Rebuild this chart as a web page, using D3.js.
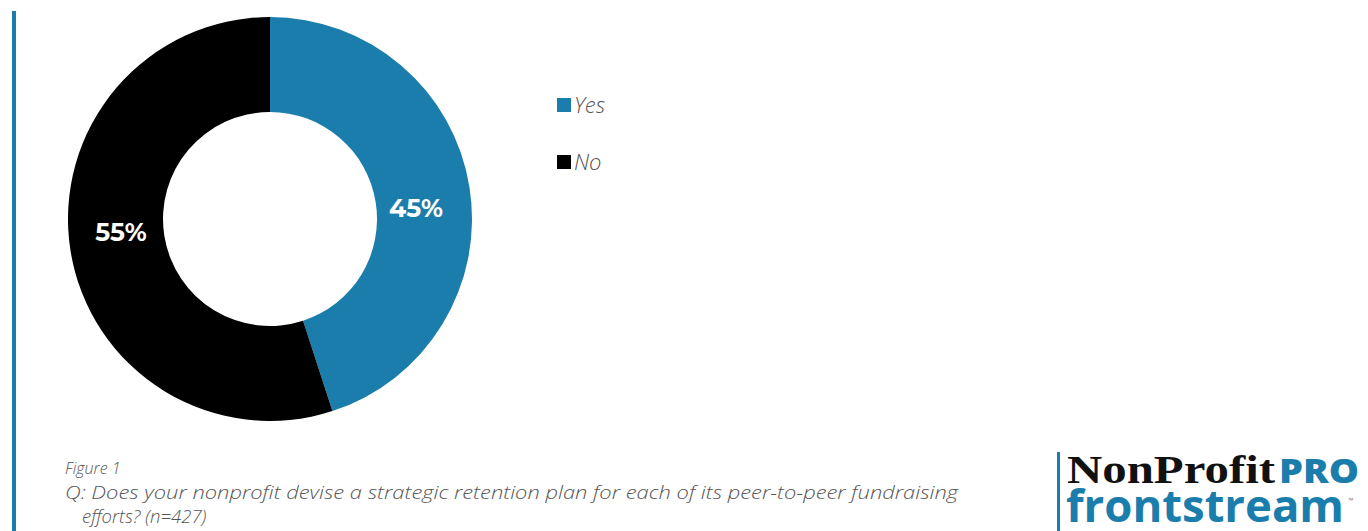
<!DOCTYPE html>
<html><head><meta charset="utf-8">
<script src="https://cdn.jsdelivr.net/npm/d3@7"></script>
<style>body{margin:0;background:#fff;overflow:hidden}</style>
</head><body>
<svg id="c" width="1368" height="531"></svg>
<script>
const categories = ["Yes", "No"];
const values = [45, 55];
const labels = ["45%", "55%"];
const colors = ["#1a7dab", "#000000"];

const svg = d3.select("#c");
const blue = "#1a7dab";

// left accent bar
svg.append("rect").attr("x", 12).attr("y", 11).attr("width", 4).attr("height", 520).attr("fill", blue);

const cx = 270, cy = 219, rO = 202, rI = 107;
const pie = d3.pie().sort(null).value(d => d)(values);
const arc = d3.arc().innerRadius(rI).outerRadius(rO);
const g = svg.append("g").attr("transform", `translate(${cx},${cy})`);
g.selectAll("path").data(pie).join("path").attr("d", arc).attr("fill", (d, i) => colors[i]);

const labelPos = [[146, -11], [-149, 13]];
g.selectAll("text.lab").data(pie).join("text").attr("class", "lab")
  .attr("x", (d, i) => labelPos[i][0]).attr("y", (d, i) => labelPos[i][1])
  .attr("text-anchor", "middle").attr("dominant-baseline", "central")
  .attr("fill", "#fff").attr("font-family", "Montserrat, 'Open Sans', sans-serif")
  .attr("font-weight", 700).attr("font-size", 25)
  .text((d, i) => labels[i]);

// legend
const leg = svg.append("g");
categories.forEach((c, i) => {
  const y = 98 + i * 57;
  leg.append("rect").attr("x", 557).attr("y", y).attr("width", 14).attr("height", 14).attr("fill", colors[i]);
  leg.append("text").attr("x", 574).attr("y", y + 15).attr("font-family", "'Open Sans', sans-serif")
    .attr("font-style", "italic").attr("font-weight", 300).attr("font-size", 22).attr("fill", "#555").text(c);
});

// caption
const cap = svg.append("g").attr("font-family", "'Open Sans', sans-serif").attr("font-style", "italic")
  .attr("font-weight", 300).attr("fill", "#555");
cap.append("text").attr("x", 65).attr("y", 474).attr("font-size", 16).text("Figure 1");
cap.append("text").attr("x", 65).attr("y", 499).attr("font-size", 18.5).attr("textLength", 893)
  .attr("lengthAdjust", "spacingAndGlyphs")
  .text("Q: Does your nonprofit devise a strategic retention plan for each of its peer-to-peer fundraising");
cap.append("text").attr("x", 82).attr("y", 523).attr("font-size", 18.5).text("efforts? (n=427)");

// logo
svg.append("rect").attr("x", 1057).attr("y", 452).attr("width", 3).attr("height", 79).attr("fill", blue);
svg.append("text").attr("x", 1067).attr("y", 483).attr("font-family", "'Liberation Serif', serif")
  .attr("font-weight", 700).attr("font-size", 40).attr("fill", "#111").attr("textLength", 208)
  .attr("lengthAdjust", "spacingAndGlyphs").text("NonProfit");
svg.append("text").attr("x", 1279).attr("y", 483).attr("font-family", "'Open Sans', sans-serif")
  .attr("font-weight", 800).attr("font-size", 34).attr("fill", blue).attr("textLength", 80)
  .attr("lengthAdjust", "spacingAndGlyphs").text("PRO");
svg.append("text").attr("x", 1066).attr("y", 522).attr("font-family", "'Open Sans', sans-serif")
  .attr("font-weight", 700).attr("font-size", 45).attr("fill", blue).attr("textLength", 278)
  .attr("lengthAdjust", "spacingAndGlyphs").text("frontstream");
svg.append("text").attr("x", 1348).attr("y", 503).attr("font-family", "'Open Sans', sans-serif")
  .attr("font-size", 7).attr("fill", "#777").text("™");
</script>
</body></html>
